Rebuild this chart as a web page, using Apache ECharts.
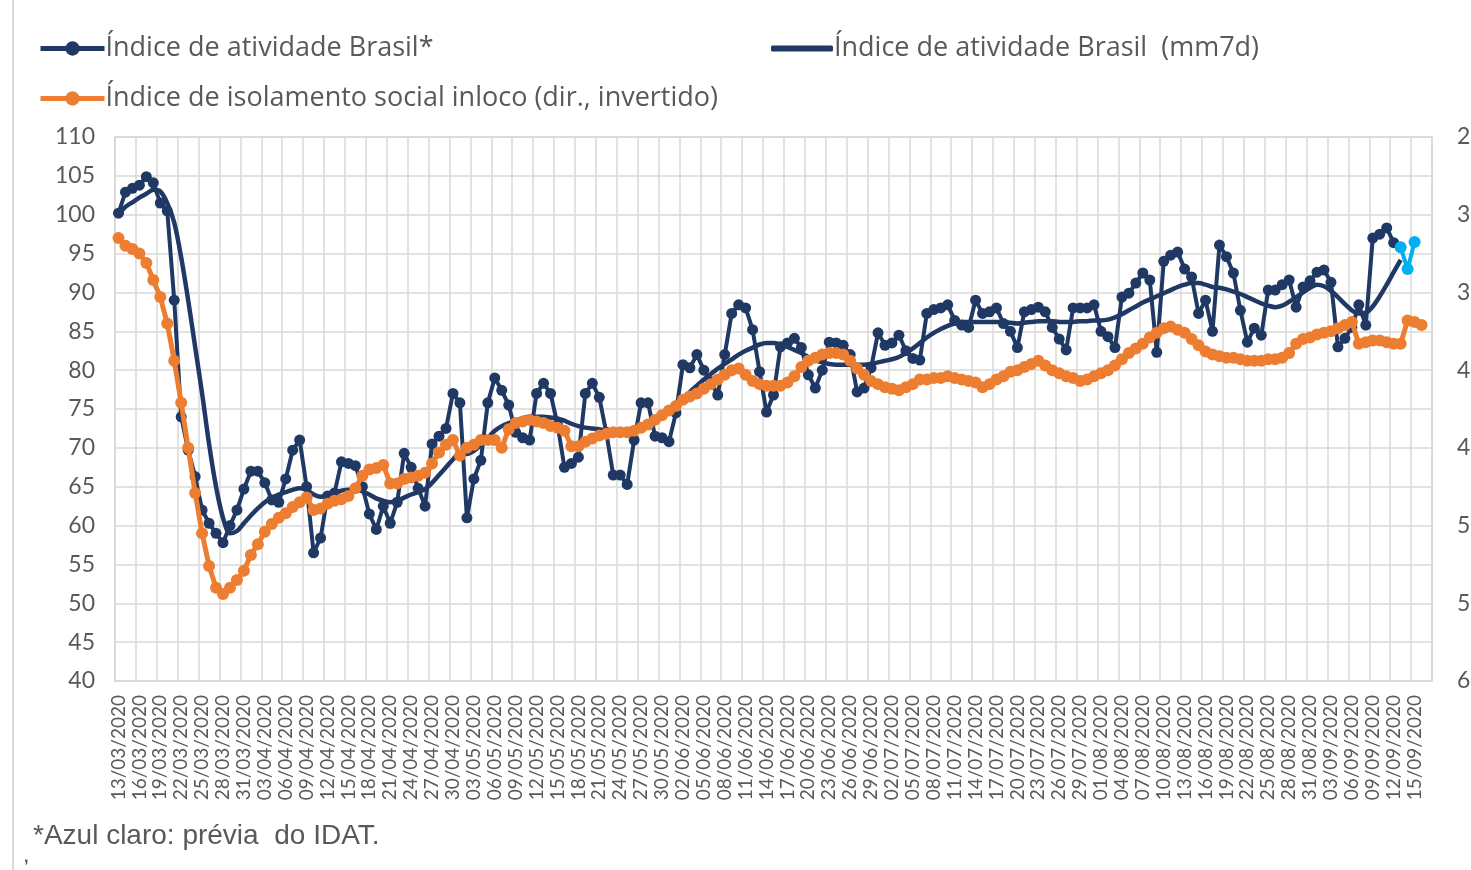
<!DOCTYPE html>
<html>
<head>
<meta charset="utf-8">
<title>Índice de atividade Brasil</title>
<script src="https://cdn.jsdelivr.net/npm/echarts@6/dist/echarts.min.js"></script>
<style>
	html, body { margin: 0; padding: 0; background: #fff; }
	#chart { width: 1471px; height: 870px; }
</style>
</head>
<body>
<div id="chart"></div>
<script>
// datas de 13/03/2020 a 17/09/2020 (um ponto por dia)
var startDate = [2020, 3, 13];
var dayCount = 189;

// Índice de atividade Brasil* (diário)
var atividade = [
	100.2, 102.9, 103.4, 103.8, 104.9, 104.1, 101.5, 100.5, 89, 74,
	69.7, 66.3, 62, 60.3, 59, 57.8, 60, 62, 64.7, 67,
	67, 65.5, 63.3, 63, 66, 69.7, 71, 65, 56.5, 58.4,
	63.8, 64.2, 68.2, 68, 67.7, 65, 61.5, 59.5, 62.5, 60.3,
	63, 69.3, 67.5, 64.8, 62.5, 70.5, 71.5, 72.5, 77, 75.8,
	61, 66, 68.4, 75.8, 79, 77.4, 75.5, 72, 71.3, 71,
	77, 78.3, 77, 73, 67.5, 68, 68.8, 77, 78.3, 76.5,
	72, 66.5, 66.5, 65.3, 71, 75.8, 75.8, 71.5, 71.3, 70.8,
	74.5, 80.7, 80.3, 82, 80, 78.5, 76.8, 82, 87.3, 88.4,
	88, 85.2, 79.8, 74.6, 76.8, 83, 83.5, 84.1, 82.9, 79.4,
	77.7, 80, 83.6, 83.5, 83.2, 82, 77.2, 77.7, 80.3, 84.8,
	83.2, 83.5, 84.5, 82.5, 81.5, 81.3, 87.3, 87.8, 88, 88.4,
	86.4, 85.8, 85.5, 89, 87.3, 87.5, 88, 86, 85, 82.9,
	87.5, 87.8, 88.1, 87.5, 85.5, 84, 82.6, 88, 88, 88,
	88.4, 85, 84.3, 82.9, 89.4, 89.9, 91.2, 92.5, 91.6, 82.3,
	94, 94.8, 95.2, 93, 92, 87.3, 89, 85, 96.1, 94.6,
	92.5, 87.7, 83.6, 85.4, 84.5, 90.3, 90.3, 91, 91.6, 88.1,
	90.7, 91.5, 92.6, 92.9, 91.3, 83, 84.1, 85.5, 88.4, 85.8,
	97, 97.5, 98.3, 96.4, 95.8
];

// prévia do IDAT (azul claro), a partir de 14/09
var previaInicio = 184;
var previa = [95.8, 93, 96.5];

// Índice de atividade Brasil (mm7d)
var atividadeMM7 = [
	100, 101, 101.6, 102.2, 102.7, 103.2, 103, 101.5, 99, 94.5,
	89, 83, 77, 70.5, 65, 61, 59, 59.3, 60.3, 61.3,
	62.2, 63, 63.6, 64, 64.3, 64.6, 64.8, 64.6, 64, 63.7,
	63.9, 64.2, 64.5, 64.6, 64.6, 64.4, 64, 63.5, 63.2, 63,
	63.2, 63.6, 64, 64.3, 64.7, 65.5, 66.5, 67.5, 68.5, 69.3,
	69.2, 69.6, 70.4, 71.3, 72.2, 72.8, 73.2, 73.5, 73.8, 74,
	74, 74, 73.9, 73.8, 73.5, 73.1, 72.8, 72.6, 72.5, 72.4,
	72.2, 72, 71.8, 71.8, 72, 72.3, 72.8, 73.3, 74, 74.8,
	75.6, 76.4, 77.2, 78, 78.8, 79.5, 80.2, 80.8, 81.4, 82,
	82.5, 82.9, 83.3, 83.5, 83.5, 83.3, 83, 82.6, 82.2, 81.7,
	81.3, 81, 80.8, 80.7, 80.7, 80.7, 80.7, 80.7, 80.8, 81,
	81.2, 81.4, 81.7, 82.2, 82.8, 83.5, 84.2, 84.8, 85.3, 85.7,
	86, 86.2, 86.2, 86.2, 86.2, 86.2, 86.2, 86.2, 86.1, 86,
	86.1, 86.2, 86.3, 86.3, 86.3, 86.2, 86.2, 86.2, 86.3, 86.3,
	86.4, 86.4, 86.5, 86.8, 87.2, 87.7, 88.2, 88.7, 89.1, 89.5,
	89.9, 90.3, 90.7, 91, 91.2, 91.2, 91, 90.7, 90.6, 90.4,
	90.1, 89.8, 89.4, 89, 88.6, 88.3, 88.1, 88.3, 88.8, 89.4,
	90, 90.6, 91, 90.8, 90.2, 89.4, 88.5, 87.7, 87.3, 87.4,
	88.2, 89.5, 91, 92.6, 94.2
];

// Índice de isolamento social inloco (%), eixo direito invertido
var isolamento = [
	31.5, 32.0, 32.2, 32.5, 33.1, 34.2, 35.3, 37.0, 39.4, 42.1,
	45.0, 47.9, 50.5, 52.6, 54.0, 54.4, 54.0, 53.5, 52.9, 51.9,
	51.2, 50.4, 49.9, 49.5, 49.2, 48.8, 48.5, 48.2, 49.0, 48.9,
	48.6, 48.4, 48.3, 48.1, 47.6, 46.8, 46.4, 46.3, 46.1, 47.3,
	47.3, 47.0, 46.9, 46.8, 46.6, 46.0, 45.3, 44.8, 44.5, 45.5,
	45.0, 44.8, 44.5, 44.5, 44.5, 45.0, 43.8, 43.4, 43.3, 43.2,
	43.3, 43.4, 43.6, 43.7, 43.9, 44.9, 44.9, 44.6, 44.4, 44.2,
	44.1, 44.0, 44.0, 44.0, 43.9, 43.7, 43.5, 43.2, 42.9, 42.6,
	42.3, 41.9, 41.7, 41.5, 41.2, 40.9, 40.6, 40.3, 40.0, 39.9,
	40.3, 40.7, 40.9, 41.0, 41.0, 41.0, 40.8, 40.4, 39.8, 39.4,
	39.2, 39.0, 38.9, 38.9, 39.0, 39.4, 39.9, 40.3, 40.7, 40.9,
	41.1, 41.2, 41.3, 41.1, 40.9, 40.6, 40.6, 40.5, 40.5, 40.4,
	40.5, 40.6, 40.7, 40.8, 41.1, 40.9, 40.6, 40.4, 40.1, 40.0,
	39.8, 39.6, 39.4, 39.7, 40.0, 40.2, 40.4, 40.5, 40.7, 40.6,
	40.4, 40.2, 40.0, 39.7, 39.3, 38.9, 38.6, 38.3, 37.9, 37.6,
	37.3, 37.2, 37.4, 37.6, 38.0, 38.4, 38.8, 39.0, 39.1, 39.2,
	39.2, 39.3, 39.4, 39.4, 39.4, 39.3, 39.3, 39.2, 38.9, 38.3,
	38.0, 37.9, 37.7, 37.6, 37.5, 37.3, 37.1, 36.9, 38.3, 38.2,
	38.1, 38.1, 38.2, 38.3, 38.3, 36.8, 36.9, 37.1
];

var eixoEsq = { min: 40, max: 110, interval: 5 };
var eixoDir = { min: 25, max: 60, interval: 5 };

var nomes = [
	'Índice de atividade Brasil*',
	'Índice de atividade Brasil  (mm7d)',
	'Índice de isolamento social inloco (dir., invertido)'
];

var azul = '#1f3864';
var azulClaro = '#00b0f0';
var laranja = '#ed7d31';
var cinza = '#595959';
var grade = '#d9d9d9';

function pad2(n) {
	return (n < 10 ? '0' : '') + n;
}

var datas = [];
for (var i = 0; i < dayCount; i++) {
	var d = new Date(Date.UTC(startDate[0], startDate[1] - 1, startDate[2] + i));
	datas.push(pad2(d.getUTCDate()) + '/' + pad2(d.getUTCMonth() + 1) + '/' + d.getUTCFullYear());
}

var previaSerie = [];
for (var j = 0; j < dayCount; j++) {
	var k = j - previaInicio;
	previaSerie.push(k >= 0 && k < previa.length ? previa[k] : null);
}

var legendText = { color: cinza, fontSize: 27, fontFamily: 'Open Sans', padding: [0, 0, 0, -4] };

function legenda(nome, left, top) {
	return {
		data: [nome],
		left: left, top: top,
		itemWidth: 64, itemHeight: 18,
		lineStyle: { width: 5 },
		textStyle: legendText
	};
}

// a média móvel aparece na legenda só como uma barra, sem marcador
var legendaMM7 = {
	data: [{ name: nomes[1], icon: 'roundRect' }],
	left: 766, top: 30,
	itemWidth: 62, itemHeight: 6,
	textStyle: legendText
};

var option = {
	backgroundColor: '#fff',
	animation: false,
	legend: [
		legenda(nomes[0], 33, 30),
		legendaMM7,
		legenda(nomes[2], 33, 80)
	],
	grid: {
		left: 115, right: 39, top: 137, bottom: 189,
		containLabel: false,
		outerBoundsMode: 'none',
		show: true,
		borderColor: grade,
		borderWidth: 1.5
	},
	xAxis: {
		type: 'category',
		data: datas,
		boundaryGap: true,
		axisLine: { lineStyle: { color: grade, width: 1.5 } },
		axisTick: { show: false },
		axisLabel: {
			interval: 2,
			rotate: 90,
			margin: 14,
			color: cinza,
			fontSize: 19,
			fontFamily: 'Lato'
		},
		splitLine: {
			show: true,
			interval: 2,
			lineStyle: { color: grade, width: 1.5 }
		}
	},
	yAxis: [{
		type: 'value',
		min: eixoEsq.min, max: eixoEsq.max, interval: eixoEsq.interval,
		axisLine: { show: true, lineStyle: { color: grade, width: 1.5 } },
		axisTick: { show: false },
		axisLabel: { color: cinza, fontSize: 23, fontFamily: 'Lato', margin: 20 },
		splitLine: { lineStyle: { color: grade, width: 1.5 } }
	}, {
		type: 'value',
		inverse: true,
		min: eixoDir.min, max: eixoDir.max, interval: eixoDir.interval,
		axisLine: { show: false },
		axisTick: { show: false },
		axisLabel: { color: cinza, fontSize: 23, fontFamily: 'Lato', margin: 25 },
		splitLine: { show: false }
	}],
	series: [{
		name: nomes[0],
		type: 'line',
		data: atividade,
		symbol: 'circle',
		symbolSize: 11,
		showAllSymbol: true,
		itemStyle: { color: azul },
		lineStyle: { color: azul, width: 4 },
		z: 2
	}, {
		name: nomes[1],
		type: 'line',
		data: atividadeMM7,
		symbol: 'none',
		smooth: 0.3,
		itemStyle: { color: azul },
		lineStyle: { color: azul, width: 4.5 },
		z: 2
	}, {
		name: 'prévia',
		type: 'line',
		data: previaSerie,
		symbol: 'circle',
		symbolSize: 12,
		showAllSymbol: true,
		itemStyle: { color: azulClaro },
		lineStyle: { color: azulClaro, width: 4 },
		z: 4
	}, {
		name: nomes[2],
		type: 'line',
		yAxisIndex: 1,
		data: isolamento,
		symbol: 'circle',
		symbolSize: 12,
		showAllSymbol: true,
		itemStyle: { color: laranja },
		lineStyle: { color: laranja, width: 5 },
		z: 3
	}],
	graphic: [{
		type: 'line',
		shape: { x1: 13, y1: 0, x2: 13, y2: 870 },
		style: { stroke: grade, lineWidth: 2 }
	}, {
		type: 'text',
		left: 33, top: 822,
		style: {
			text: '*Azul claro: prévia  do IDAT.',
			fill: cinza,
			font: '28px "Liberation Sans", Arial, sans-serif'
		}
	}, {
		type: 'text',
		left: 24, top: 850,
		style: { text: ',', fill: cinza, font: 'bold 16px "Liberation Sans", Arial, sans-serif' }
	}]
};

var chart = echarts.init(document.getElementById('chart'));
chart.setOption(option);
</script>
</body>
</html>
